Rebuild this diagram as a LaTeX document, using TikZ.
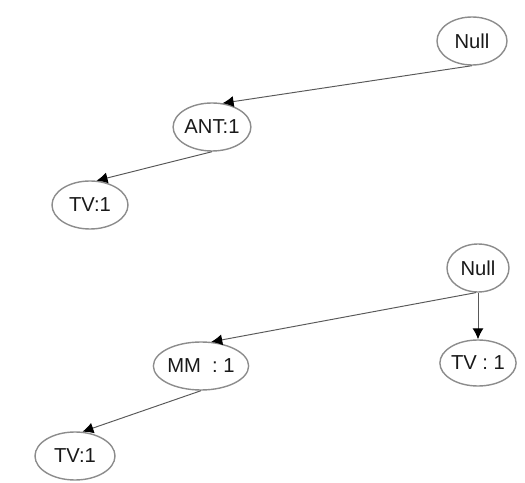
\documentclass[tikz,border=0pt]{standalone}
\usepackage{fontspec}
\setmainfont{Liberation Sans}
\usetikzlibrary{shapes.geometric, arrows.meta}

\begin{document}
\begin{tikzpicture}[x=0.02cm, y=-0.02cm]
	 \tikzstyle{item}=[ellipse, draw=black!45, line width=0.8pt, minimum width=70*0.02cm, minimum height=48*0.02cm, inner sep=0pt, font=\fontsize{11.5}{13}\selectfont, text=black!90]
	 \tikzstyle{edge} = [draw, line width=0.55pt, black!65, -{Latex[black, length=2.2mm, width=2.2mm]}]
	 \useasboundingbox (0,0) rectangle (525,483);
	 % first tree
	 \node[item] (null1) at (472,41) {Null};
	 \node[item] (ant) at (212,127) {ANT:1};
	 \node[item, minimum width=76*0.02cm] (tv1) at (90,205) {TV:1};
	 \draw[edge] (null1.south) -- (ant.66);
	 \draw[edge] (ant.south) -- (tv1.75);
	 % second tree
	 \node[item, minimum width=62*0.02cm] (null2) at (478,268) {Null};
	 \node[item, minimum width=76*0.02cm, minimum height=46*0.02cm] (tv2) at (478,363) {TV~:~1};
	 \node[item, minimum width=78*0.02cm] (mm) at (201,366) {MM~~:~1};
	 \node[item, minimum width=80*0.02cm] (tv3) at (75,456) {TV:1};
	 \draw[edge] (null2.south) -- (tv2.north);
	 \draw[edge] (null2.265) -- (mm.67);
	 \draw[edge] (mm.south) -- (tv3.73);
 \end{tikzpicture}
\end{document}
